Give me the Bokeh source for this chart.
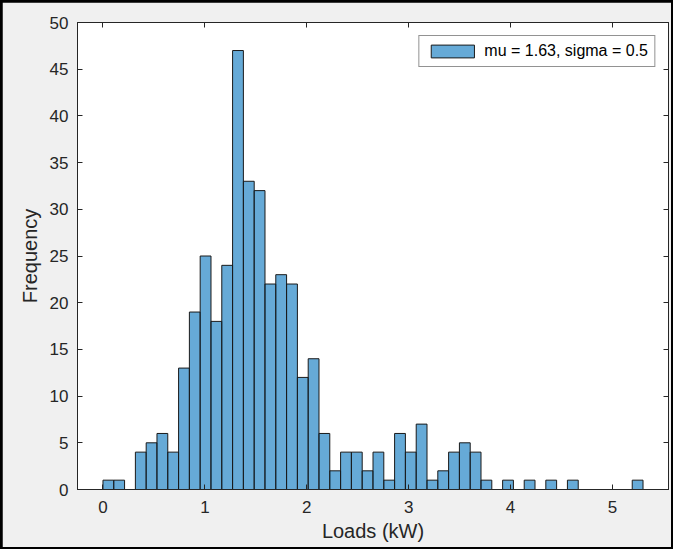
import numpy as np
from bokeh.plotting import figure
from bokeh.models import ColumnDataSource, LinearAxis, FixedTicker, Legend, LegendItem, Range1d
from bokeh.layouts import column
from bokeh.embed import file_html
from bokeh.resources import INLINE

# ---- data ----
bin_start = 0.0
bin_width = 0.106
counts = [1, 1, 0, 4, 5, 6, 4, 13, 19, 25,
          18, 24, 47, 33, 32, 22, 23, 22, 12, 14,
          6, 2, 4, 4, 2, 4, 1, 6, 4, 7,
          1, 2, 4, 5, 4, 1, 0, 1, 0, 1,
          0, 1, 0, 1, 0, 0, 0, 0, 0, 1]
x_ticks = [0, 1, 2, 3, 4, 5]
y_ticks = [0, 5, 10, 15, 20, 25, 30, 35, 40, 45, 50]
legend_label = "mu = 1.63, sigma = 0.5"
x_label = "Loads (kW)"
y_label = "Frequency"

n = len(counts)
lefts = [bin_start + i * bin_width for i in range(n)]
rights = [bin_start + (i + 1) * bin_width for i in range(n)]
keep = [i for i in range(n) if counts[i] > 0]
src = ColumnDataSource(dict(left=[lefts[i] for i in keep],
                            right=[rights[i] for i in keep],
                            top=[counts[i] for i in keep],
                            bottom=[0] * len(keep)))

FONT = "Liberation Sans"
TXT = "#262626"
BG = "#f0f0f0"

p = figure(width=669, height=545, output_backend="svg", toolbar_location=None,
           x_range=Range1d(-0.25, 5.55), y_range=Range1d(0, 50),
           min_border_left=75, min_border_right=3, min_border_top=20, min_border_bottom=58,
           background_fill_color="white", border_fill_color=BG)
p.margin = (2, 2, 2, 2)
p.xgrid.visible = False
p.ygrid.visible = False
p.outline_line_color = TXT
p.outline_line_width = 1

r = p.quad(left="left", right="right", top="top", bottom="bottom", source=src,
           fill_color="#0072BD", fill_alpha=0.6, line_color="#1a1a1a", line_width=1)


def style_axis(ax, labels=True):
    ax.axis_line_color = TXT
    ax.major_tick_line_color = TXT
    ax.major_tick_in = 5
    ax.major_tick_out = 0
    ax.minor_tick_line_color = None
    ax.major_label_text_font = FONT
    ax.major_label_text_font_size = "17px"
    ax.major_label_text_color = TXT
    ax.axis_label_text_font = FONT
    ax.axis_label_text_font_size = "20px"
    ax.axis_label_text_font_style = "normal"
    ax.axis_label_text_color = TXT
    if not labels:
        ax.major_label_text_font_size = "0px"
        ax.major_label_text_alpha = 0


xa = p.xaxis[0]
xa.ticker = FixedTicker(ticks=x_ticks)
xa.axis_label = x_label
style_axis(xa)
xa.major_label_standoff = 11
xa.axis_label_standoff = 4

ya = p.yaxis[0]
ya.ticker = FixedTicker(ticks=y_ticks)
ya.axis_label = y_label
style_axis(ya)
ya.major_label_standoff = 9
ya.axis_label_standoff = 6

top_ax = LinearAxis(ticker=FixedTicker(ticks=x_ticks))
style_axis(top_ax, labels=False)
p.add_layout(top_ax, "above")
right_ax = LinearAxis(ticker=FixedTicker(ticks=y_ticks))
style_axis(right_ax, labels=False)
p.add_layout(right_ax, "right")

legend = Legend(items=[LegendItem(label=legend_label, renderers=[r])],
                location="top_right", margin=13, padding=6, spacing=0,
                glyph_width=54, glyph_height=16, label_standoff=5,
                label_text_font=FONT, label_text_font_size="16px", label_text_color="black",
                border_line_color=TXT, border_line_width=1, background_fill_color="white",
                background_fill_alpha=1.0)
p.add_layout(legend)

page = column(p, styles={"background-color": "black"})
open("out.html", "w").write(file_html(page, INLINE))
